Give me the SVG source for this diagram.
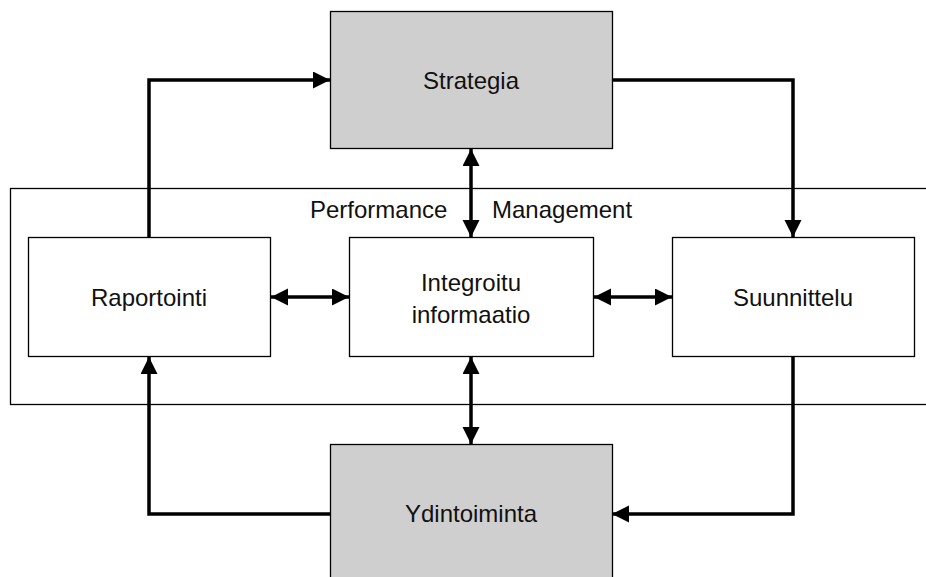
<svg xmlns="http://www.w3.org/2000/svg" width="926" height="577" viewBox="0 0 926 577">
  <style>
    .box { stroke: #000; stroke-width: 1.3; }
    .grey { fill: #d0cfd0; }
    .white { fill: #fff; }
    .frame { fill: none; stroke: #000; stroke-width: 1.3; }
    .lbl { font-family: "Liberation Sans", Arial, sans-serif; font-size: 24px; fill: #111; }
    .mid { text-anchor: middle; }
    .conn { fill: none; stroke: #000; stroke-width: 3.5; stroke-linejoin: miter; }
  </style>
  <defs>
    <marker id="arrow" markerUnits="userSpaceOnUse" markerWidth="18" markerHeight="18" refX="17" refY="8.5" orient="auto-start-reverse">
      <path d="M0,0 L17,8.5 L0,17 Z" fill="#000"/>
    </marker>
  </defs>

  <!-- Performance Management frame -->
  <g id="performance-management">
    <rect class="frame" x="10.5" y="188.5" width="930" height="216"/>
    <text class="lbl" x="310" y="218">Performance</text>
    <text class="lbl" x="492" y="218">Management</text>
  </g>

  <!-- connectors -->
  <g id="connectors">
    <path class="conn" d="M149,237 V80 H330" marker-end="url(#arrow)"/>
    <path class="conn" d="M612,80 H793 V237" marker-end="url(#arrow)"/>
    <path class="conn" d="M471,149 V237" marker-start="url(#arrow)" marker-end="url(#arrow)"/>
    <path class="conn" d="M271,297 H349" marker-start="url(#arrow)" marker-end="url(#arrow)"/>
    <path class="conn" d="M594,297 H672" marker-start="url(#arrow)" marker-end="url(#arrow)"/>
    <path class="conn" d="M471,357 V444" marker-start="url(#arrow)" marker-end="url(#arrow)"/>
    <path class="conn" d="M793,356 V514 H612" marker-end="url(#arrow)"/>
    <path class="conn" d="M330,514 H149 V357" marker-end="url(#arrow)"/>
  </g>

  <g id="strategia">
    <rect class="box grey" x="330.5" y="11.5" width="282" height="137"/>
    <text class="lbl mid" x="471" y="89">Strategia</text>
  </g>

  <g id="raportointi">
    <rect class="box white" x="28.5" y="237.5" width="242" height="119"/>
    <text class="lbl mid" x="149" y="306">Raportointi</text>
  </g>

  <g id="integroitu-informaatio">
    <rect class="box white" x="349.5" y="237.5" width="244" height="119"/>
    <text class="lbl mid" x="471" y="291">Integroitu</text>
    <text class="lbl mid" x="471" y="323">informaatio</text>
  </g>

  <g id="suunnittelu">
    <rect class="box white" x="672.5" y="237.5" width="242" height="119"/>
    <text class="lbl mid" x="793" y="306">Suunnittelu</text>
  </g>

  <g id="ydintoiminta">
    <rect class="box grey" x="330.5" y="444.5" width="282" height="140"/>
    <text class="lbl mid" x="471" y="522">Ydintoiminta</text>
  </g>
</svg>
